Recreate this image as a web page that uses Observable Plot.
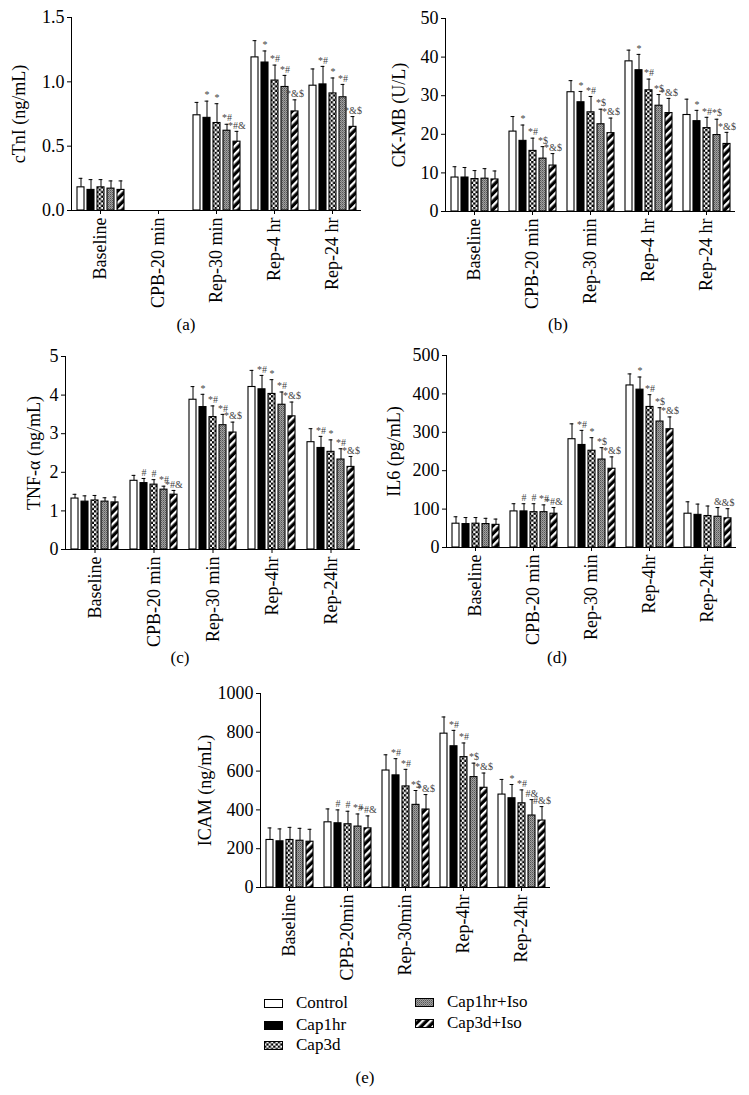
<!DOCTYPE html>
<html><head><meta charset="utf-8">
<script src="https://cdn.jsdelivr.net/npm/d3@7"></script>
<script src="https://cdn.jsdelivr.net/npm/@observablehq/plot@0.6"></script>
<style>
body{margin:0;background:#fff;}
#root{position:relative;width:749px;height:1095px;font-family:"Liberation Serif",serif;color:#000;}
.panel{position:absolute;}
.panel svg text { font-size: 18px !important; font-family: "Liberation Serif", serif !important; }
.panel svg g[aria-label="text"] text { font-size: 10px !important; }
.plab{position:absolute;font-family:"Liberation Serif",serif;font-size:17px;transform:translate(-50%,-50%);white-space:nowrap;}
.leg{position:absolute;font-family:"Liberation Serif",serif;font-size:17px;display:flex;align-items:center;transform:translateY(-50%);white-space:nowrap;}
.leg svg{margin-right:13px;}
</style></head><body>
<svg width="0" height="0" style="position:absolute">
<defs>
<pattern id="pCheck" patternUnits="userSpaceOnUse" width="4.6" height="4.6">
<rect width="4.6" height="4.6" fill="#fff"/>
<rect width="2.3" height="2.3" fill="#000"/>
<rect x="2.3" y="2.3" width="2.3" height="2.3" fill="#000"/>
</pattern>
<pattern id="pGray" patternUnits="userSpaceOnUse" width="2" height="2">
<rect width="2" height="2" fill="#a0a0a0"/>
<rect width="1" height="1" fill="#555"/>
<rect x="1" y="1" width="1" height="1" fill="#777"/>
</pattern>
<pattern id="pStripe" patternUnits="userSpaceOnUse" width="5.6" height="5.6" patternTransform="rotate(45)">
<rect width="5.6" height="5.6" fill="#000"/>
<rect width="2.3" height="5.6" fill="#fff"/>
</pattern>
</defs>
</svg>
<div id="root"></div>
<script>
const groups = ["Control", "Cap1hr", "Cap3d", "Cap1hr+Iso", "Cap3d+Iso"];
const groupFills = ["#ffffff", "#000000", "url(#pCheck)", "url(#pGray)", "url(#pStripe)"];

const catsAB = ["Baseline", "CPB-20 min", "Rep-30 min", "Rep-4 hr", "Rep-24 hr"];
const catsCD = ["Baseline", "CPB-20 min", "Rep-30 min", "Rep-4hr", "Rep-24hr"];
const catsE = ["Baseline", "CPB-20min", "Rep-30min", "Rep-4hr", "Rep-24hr"];

// (a) cTnI — rows: groups, columns: categories
const cTnIMean = [
  [0.18, null, 0.74, 1.19, 0.97],
  [0.16, null, 0.72, 1.15, 0.98],
  [0.18, null, 0.68, 1.01, 0.91],
  [0.17, null, 0.62, 0.96, 0.88],
  [0.16, null, 0.535, 0.77, 0.65]
];
const cTnISD = [
  [0.07, null, 0.10, 0.13, 0.13],
  [0.08, null, 0.13, 0.09, 0.14],
  [0.06, null, 0.15, 0.12, 0.12],
  [0.06, null, 0.05, 0.09, 0.10],
  [0.07, null, 0.08, 0.09, 0.08]
];
const cTnINote = [
  ["", "", "", "", ""],
  ["", "", "*", "*", "*#"],
  ["", "", "*", "*#", "*"],
  ["", "", "*#", "*#", "*#"],
  ["", "", "*#&", "*&$", "*&$"]
];

// (b) CK-MB
const ckmbMean = [
  [8.8, 20.7, 30.9, 38.9, 25.0],
  [8.8, 18.3, 28.3, 36.6, 23.4],
  [8.4, 15.7, 25.7, 31.4, 21.6],
  [8.5, 13.7, 22.6, 27.4, 19.8],
  [8.3, 11.9, 20.3, 25.5, 17.5]
];
const ckmbSD = [
  [2.8, 3.9, 3.0, 2.9, 4.1],
  [2.6, 4.1, 2.8, 4.1, 2.8],
  [2.2, 3.3, 4.1, 2.9, 2.8],
  [2.6, 3.1, 3.9, 2.9, 4.1],
  [2.2, 3.1, 3.9, 3.8, 3.0]
];
const ckmbNote = [
  ["", "", "", "", ""],
  ["", "*", "*", "*", "*"],
  ["", "*#", "*#", "*#", "*#"],
  ["", "*$", "*$", "*$", "*$"],
  ["", "*&$", "*&$", "*&$", "*&$"]
];

// (c) TNF-α
const tnfMean = [
  [1.32, 1.78, 3.88, 4.21, 2.78],
  [1.24, 1.72, 3.69, 4.15, 2.63],
  [1.27, 1.68, 3.43, 4.03, 2.53],
  [1.24, 1.55, 3.22, 3.75, 2.33],
  [1.22, 1.42, 3.03, 3.45, 2.14]
];
const tnfSD = [
  [0.11, 0.14, 0.34, 0.43, 0.35],
  [0.15, 0.12, 0.33, 0.36, 0.30],
  [0.13, 0.13, 0.29, 0.37, 0.31],
  [0.10, 0.09, 0.28, 0.33, 0.28],
  [0.14, 0.11, 0.27, 0.37, 0.27]
];
const tnfNote = [
  ["", "", "", "", ""],
  ["", "#", "*", "*#", "*#"],
  ["", "#", "*#", "*", "*"],
  ["", "*#", "*#", "*#", "*#"],
  ["", "*#&", "*&$", "*&$", "*&$"]
];

// (d) IL6
const il6Mean = [
  [62, 94, 282, 422, 88],
  [61, 94, 267, 411, 85],
  [62, 92, 252, 366, 82],
  [61, 92, 229, 328, 80],
  [59, 88, 205, 308, 76]
];
const il6SD = [
  [18, 20, 40, 30, 31],
  [17, 20, 38, 33, 28],
  [16, 22, 34, 32, 26],
  [15, 19, 31, 36, 24],
  [15, 16, 31, 32, 25]
];
const il6Note = [
  ["", "", "", "", ""],
  ["", "#", "*#", "*", ""],
  ["", "#", "*", "*#", ""],
  ["", "*#", "*$", "*$", "&"],
  ["", "*#&", "*&$", "*&$", "&$"]
];

// (e) ICAM
const icamMean = [
  [245, 336, 603, 793, 479],
  [238, 331, 578, 728, 460],
  [245, 326, 521, 672, 434],
  [241, 314, 426, 569, 371],
  [236, 305, 402, 514, 345]
];
const icamSD = [
  [62, 69, 81, 86, 78],
  [64, 69, 86, 82, 71],
  [65, 67, 88, 73, 69],
  [64, 65, 74, 72, 82],
  [64, 64, 77, 76, 72]
];
const icamNote = [
  ["", "", "", "", ""],
  ["", "#", "*#", "*#", "*"],
  ["", "#", "*#", "*#", "*#"],
  ["", "*#", "*$", "*$", "#&"],
  ["", "*#&", "*&$", "*&$", "#&$"]
];

function rowsOf(cats, mean, sd, note) {
  const rows = [];
  groups.forEach((g, gi) => cats.forEach((c, ci) => {
    const m = mean[gi][ci];
    const s = sd[gi][ci];
    // rows without a value are kept (no bar is drawn) so that every facet exists
    rows.push({cat: c, grp: g, mean: m, hi: m == null ? null : m + s, note: note[gi][ci]});
  }));
  return rows;
}

function panel(o) {
  const rows = rowsOf(o.cats, o.mean, o.sd, o.note);
  const plot = Plot.plot({
    width: o.width, height: o.height,
    marginLeft: o.ml, marginRight: o.mr, marginTop: o.mt, marginBottom: o.mb,
    style: {fontFamily: "'Liberation Serif', serif", fontSize: "18px", background: "transparent", color: "#000", overflow: "visible"},
    fx: {domain: o.cats, padding: 0, label: null, tickRotate: -90, tickSize: 4, tickPadding: 3},
    x: {domain: groups, axis: null, paddingInner: 0.3, paddingOuter: 0.45},
    y: {domain: o.domain, ticks: o.ticks, tickFormat: o.fmt, tickSize: 4, tickPadding: 3,
        label: o.label, labelAnchor: "center", labelOffset: o.lo, labelArrow: "none", line: true},
    color: {domain: groups, range: groupFills},
    marks: [
      Plot.ruleX(rows, {fx: "cat", x: "grp", y1: "mean", y2: "hi", stroke: "#000", strokeWidth: 1}),
      Plot.tickY(rows, {fx: "cat", x: "grp", y: "hi", stroke: "#000", strokeWidth: 1, insetLeft: 1.6, insetRight: 1.6}),
      Plot.barY(rows, {fx: "cat", x: "grp", y: "mean", fill: "grp", stroke: "#000", strokeWidth: 1.1}),
      Plot.text(rows, {fx: "cat", x: "grp", y: "hi", text: "note", dy: -6, fontSize: 10, fill: "#444"}),
      Plot.ruleY([0], {stroke: "#000", strokeWidth: 1})
    ]
  });
  const div = document.createElement("div");
  div.className = "panel";
  div.style.left = o.left + "px";
  div.style.top = o.top + "px";
  div.appendChild(plot);
  document.getElementById("root").appendChild(div);
  const lab = document.createElement("div");
  lab.className = "plab";
  lab.textContent = o.tag;
  lab.style.left = o.tagX + "px";
  lab.style.top = o.tagY + "px";
  document.getElementById("root").appendChild(lab);
}

panel({left: 0, top: 0, width: 370, height: 320, ml: 69, mr: 8, mt: 17, mb: 110,
  cats: catsAB, mean: cTnIMean, sd: cTnISD, note: cTnINote,
  domain: [0, 1.5], ticks: [0, 0.5, 1, 1.5], fmt: d3.format(".1f"), label: "cTnI (ng/mL)", lo: 59,
  tag: "(a)", tagX: 186, tagY: 325});
panel({left: 370, top: 0, width: 379, height: 320, ml: 73, mr: 12, mt: 18, mb: 109,
  cats: catsAB, mean: ckmbMean, sd: ckmbSD, note: ckmbNote,
  domain: [0, 50], ticks: [0, 10, 20, 30, 40, 50], fmt: d3.format("d"), label: "CK-MB (U/L)", lo: 53,
  tag: "(b)", tagX: 558, tagY: 325});
panel({left: 0, top: 340, width: 370, height: 320, ml: 63, mr: 8, mt: 16, mb: 111,
  cats: catsCD, mean: tnfMean, sd: tnfSD, note: tnfNote,
  domain: [0, 5], ticks: [0, 1, 2, 3, 4, 5], fmt: d3.format("d"), label: "TNF-α (ng/mL)", lo: 38,
  tag: "(c)", tagX: 180, tagY: 658});
panel({left: 370, top: 340, width: 379, height: 320, ml: 74, mr: 12, mt: 15, mb: 113,
  cats: catsCD, mean: il6Mean, sd: il6SD, note: il6Note,
  domain: [0, 500], ticks: [0, 100, 200, 300, 400, 500], fmt: d3.format("d"), label: "IL6 (pg/mL)", lo: 59,
  tag: "(d)", tagX: 557, tagY: 658});
panel({left: 180, top: 670, width: 390, height: 320, ml: 78, mr: 18, mt: 23, mb: 103,
  cats: catsE, mean: icamMean, sd: icamSD, note: icamNote,
  domain: [0, 1000], ticks: [0, 200, 400, 600, 800, 1000], fmt: d3.format("d"), label: "ICAM (ng/mL)", lo: 62,
  tag: "(e)", tagX: 365, tagY: 1078});

// legend
const legPos = [[264, 1003], [264, 1025], [264, 1045], [415, 1002], [415, 1023]];
groups.forEach((g, i) => {
  const el = document.createElement("div");
  el.className = "leg";
  el.style.left = legPos[i][0] + "px";
  el.style.top = legPos[i][1] + "px";
  el.innerHTML = `<svg width="19" height="9"><rect x="0.5" y="0.5" width="18" height="8" fill="${groupFills[i]}" stroke="#000"/></svg><span>${g}</span>`;
  document.getElementById("root").appendChild(el);
});
</script>
</body></html>
